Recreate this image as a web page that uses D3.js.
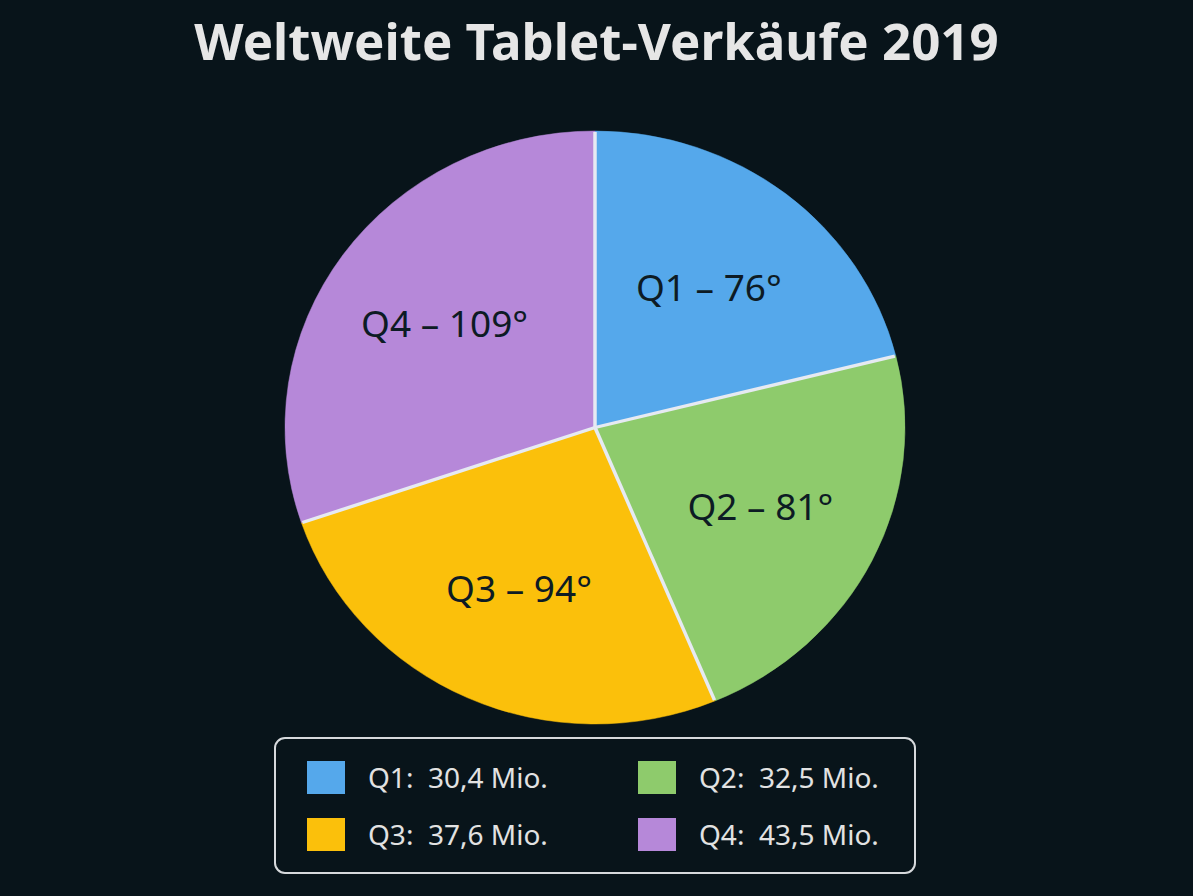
<!DOCTYPE html>
<html>
<head>
<meta charset="utf-8">
<title>Weltweite Tablet-Verkäufe 2019</title>
<script src="https://d3js.org/d3.v7.min.js"></script>
<style>
  body { margin: 0; background: #08141a; }
  text { font-family: "Noto Sans", "Open Sans", sans-serif; }
</style>
</head>
<body>
<div class="chart"></div>
<script>
let quarters = ["Q1", "Q2", "Q3", "Q4"];
let sales = [30.4, 32.5, 37.6, 43.5];
let degrees = [76, 81, 94, 109];
let colors = ["#55a8eb", "#8ecb6c", "#fbc00b", "#b688d9"];

let width = 1193;
let height = 896;
let cx = 595, cy = 427.5;
let rx = 310, ry = 296.5;

let svg = d3.select(".chart")
    .append("svg")
    .attr("width", width)
    .attr("height", height);

svg.append("rect")
    .attr("width", width)
    .attr("height", height)
    .attr("fill", "#08141a");

svg.append("text")
    .attr("x", width / 2)
    .attr("y", 60)
    .attr("text-anchor", "middle")
    .style("font-size", "51px")
    .style("font-weight", "bold")
    .style("fill", "#e6e6e6")
    .text("Weltweite Tablet-Verkäufe 2019");

let data = quarters.map((q, i) => ({ q: q, value: sales[i], deg: degrees[i], color: colors[i] }));

let pie = d3.pie().sort(null).value(d => d.value);
let arcs = pie(data);

let arc = d3.arc().innerRadius(0).outerRadius(rx);
let labelArc = d3.arc().innerRadius(185).outerRadius(185);

let pieG = svg.append("g")
    .attr("transform", "translate(" + cx + "," + cy + ") scale(1," + (ry / rx) + ")");

pieG.selectAll("path")
    .data(arcs)
    .enter()
    .append("path")
    .attr("d", arc)
    .attr("fill", d => d.data.color)
    .attr("stroke", d => d.data.color)
    .attr("stroke-width", 0.5);

// separators between slices (radii only)
pieG.selectAll("line")
    .data(arcs)
    .enter()
    .append("line")
    .attr("x1", 0)
    .attr("y1", 0)
    .attr("x2", d => Math.sin(d.startAngle) * (rx - 1))
    .attr("y2", d => -Math.cos(d.startAngle) * (rx - 1))
    .attr("stroke", "#e6eaf2")
    .attr("stroke-width", 3.5);

svg.append("g")
    .attr("transform", "translate(" + cx + "," + cy + ")")
    .selectAll("text")
    .data(arcs)
    .enter()
    .append("text")
    .attr("x", d => labelArc.centroid(d)[0])
    .attr("y", d => labelArc.centroid(d)[1] * ry / rx)
    .attr("dy", "0.35em")
    .attr("text-anchor", "middle")
    .style("font-size", "37px")
    .style("fill", "#0d1b24")
    .text(d => d.data.q + " \u2013 " + d.data.deg + "\u00b0");

// legend
let legend = svg.append("g").attr("transform", "translate(275,738)");

legend.append("rect")
    .attr("x", 0)
    .attr("y", 0)
    .attr("width", 640)
    .attr("height", 135)
    .attr("rx", 10)
    .attr("fill", "#08141a")
    .attr("stroke", "#d6d9dc")
    .attr("stroke-width", 2);

let items = legend.selectAll(".item")
    .data(data)
    .enter()
    .append("g")
    .attr("class", "item")
    .attr("transform", (d, i) => "translate(" + (32 + (i % 2) * 331) + "," + (23 + Math.floor(i / 2) * 57) + ")");

items.append("rect")
    .attr("width", 38)
    .attr("height", 33)
    .attr("fill", d => d.color);

items.append("text")
    .attr("x", 61)
    .attr("y", 17)
    .attr("dy", "0.35em")
    .attr("xml:space", "preserve")
    .style("white-space", "pre")
    .style("font-size", "28px")
    .style("fill", "#e2e2e2")
    .text(d => d.q + ":  " + d.value.toFixed(1).replace(".", ",") + " Mio.");
</script>
</body>
</html>
